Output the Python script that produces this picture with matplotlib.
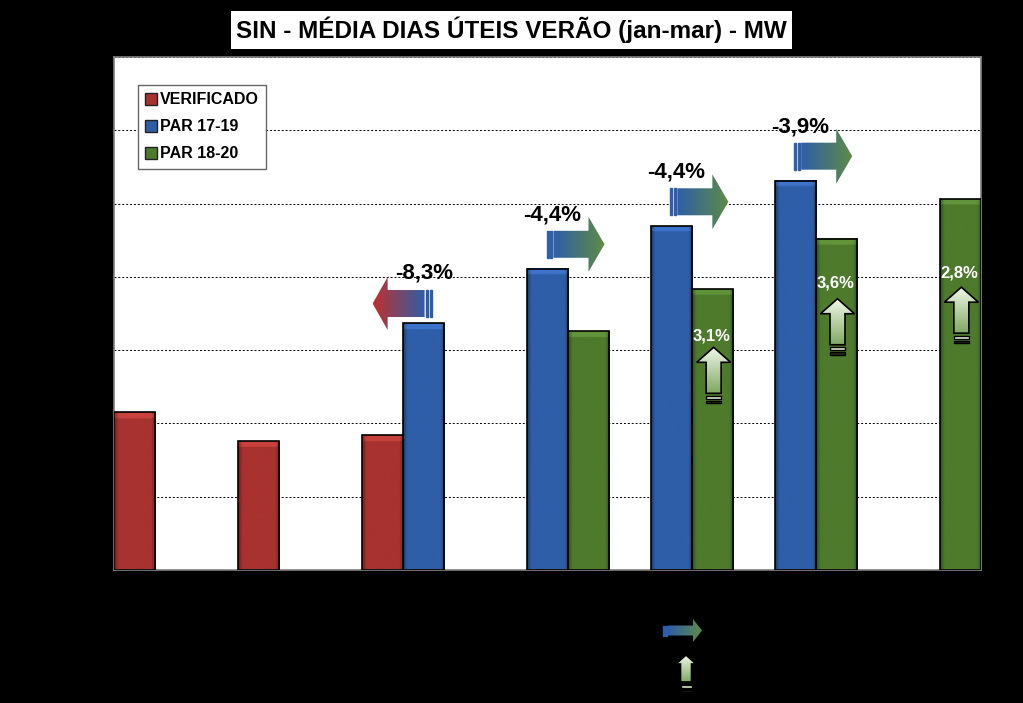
import numpy as np
import matplotlib
matplotlib.use('Agg')
import matplotlib.pyplot as plt
from matplotlib.patches import Polygon, Rectangle
from matplotlib.lines import Line2D
from matplotlib.colors import LinearSegmentedColormap, to_rgb

plt.rcParams['font.family'] = ['Liberation Sans', 'DejaVu Sans']

# dados (MW medios, dias uteis jan-mar)
anos = ['2015', '2016', '2017', '2018', '2019', '2020', '2021']
verificado = [68620, 67040, 67360, np.nan, np.nan, np.nan, np.nan]
par_17_19 = [np.nan, np.nan, 73480, 76440, 78760, 81250, np.nan]
par_18_20 = [np.nan, np.nan, np.nan, 73040, 75320, 78080, 80240]
series = ['VERIFICADO', 'PAR 17-19', 'PAR 18-20']
cores = ['#A8322F', '#2F5EA8', '#4E7A2C']

# variacoes indicadas nas setas
var_par = ['-8,3%', '-4,4%', '-4,4%', '-3,9%']     # PAR 17-19 -> verificado / PAR 18-20
var_ano = ['3,1%', '3,6%', '2,8%']                 # crescimento PAR 18-20

W, H = 1023, 703
fig = plt.figure(figsize=(W / 100, H / 100), dpi=100, facecolor='black')
ax = fig.add_axes([114 / W, 133 / H, 867 / W, 513 / H], facecolor='white')

x = np.arange(len(anos))
bw = 1 / 3
offs = [-bw, 0, bw]


def shaded_bar(ax, xc, top, base, color):
    # barra com efeito de bisel (bordas escuras, topo claro)
    nx, ny = 40, 200
    c = np.array(to_rgb(color))
    fx = np.ones(nx)
    fx[:4] = np.linspace(0.65, 0.92, 4)
    fx[-4:] = np.linspace(0.92, 0.65, 4)
    img = np.tile(c, (ny, nx, 1)) * fx[None, :, None]
    hpx = (top - base) / 28000 * 513
    ntop = max(1, int(round(6 / max(hpx, 1) * ny)))
    img[-ntop:] = np.clip(img[-ntop:] * 1.15 + 0.03, 0, 1)
    img = np.clip(img, 0, 1)
    ax.imshow(img, extent=[xc - bw / 2, xc + bw / 2, base, top], origin='lower',
              aspect='auto', interpolation='bilinear', zorder=2)
    ax.add_patch(Rectangle((xc - bw / 2, base), bw, top - base, facecolor='none',
                           edgecolor='black', linewidth=1.2, zorder=3))


ymin, ymax = 60000, 88000
for vals, off, cor in zip([verificado, par_17_19, par_18_20], offs, cores):
    for xi, v in zip(x, vals):
        if not np.isnan(v):
            shaded_bar(ax, xi + off, v, ymin, cor)

ax.set_xlim(-0.5, len(anos) - 0.5)
ax.set_ylim(ymin, ymax)
ax.set_yticks(np.arange(ymin, ymax + 1, 4000))
ax.set_xticks(x)
ax.set_xticklabels(anos, color='black', fontsize=12, fontweight='bold')
ax.tick_params(axis='y', colors='black', labelsize=11, length=4)
ax.tick_params(axis='x', length=0)
ax.yaxis.grid(True, linestyle=(0, (2, 2)), color='black', linewidth=0.7)
ax.set_axisbelow(True)
for s in ax.spines.values():
    s.set_color('#808080')
    s.set_linewidth(1.2)

handles = [Line2D([], [], marker='s', linestyle='none', markersize=8,
                  markerfacecolor=c, markeredgecolor='#222222') for c in cores]
leg = ax.legend(handles, series, loc='upper left', bbox_to_anchor=(0.028, 0.945),
                borderaxespad=0, fancybox=False, edgecolor='#666666', framealpha=1,
                prop={'weight': 'bold', 'size': 11.5}, handlelength=0.7,
                handletextpad=0.2, labelspacing=0.75, borderpad=0.45)
leg.get_frame().set_linewidth(1.0)

fig.text(0.5, 1 - 30 / H, 'SIN - MÉDIA DIAS ÚTEIS VERÃO (jan-mar) - MW',
         ha='center', va='center', fontsize=17.5, fontweight='bold',
         bbox=dict(facecolor='white', edgecolor='none', pad=4))

# camada em pixels para as setas
ov = fig.add_axes([0, 0, 1, 1], facecolor='none', zorder=5)
ov.set_xlim(0, W)
ov.set_ylim(0, H)
ov.axis('off')


def px(xd, yd):
    return ax.transData.transform((xd, yd))


def grad_poly(verts, c0, c1, vertical=False, edge='none', lw=0):
    poly = Polygon(verts, closed=True, facecolor='none', edgecolor='none')
    ov.add_patch(poly)
    xs = [v[0] for v in verts]
    ys = [v[1] for v in verts]
    cmap = LinearSegmentedColormap.from_list('g', [c0, c1])
    g = np.linspace(0, 1, 256)
    g = g[:, None] if vertical else g[None, :]
    im = ov.imshow(g, cmap=cmap, extent=[min(xs), max(xs), min(ys), max(ys)],
                   origin='lower', aspect='auto', interpolation='bilinear', zorder=6)
    im.set_clip_path(poly)
    if edge != 'none':
        ov.add_patch(Polygon(verts, closed=True, facecolor='none', edgecolor=edge,
                             linewidth=lw, zorder=7))


def right_arrow(x0, yb, L=58, Hh=55, h=27, head=16, c0='#2F5EA8', c1='#5E8C45'):
    yc = yb + Hh / 2
    s = L * 0.12
    verts = [(x0 + s, yc - h / 2), (x0 + L - head, yc - h / 2), (x0 + L - head, yb),
             (x0 + L, yc), (x0 + L - head, yb + Hh), (x0 + L - head, yc + h / 2),
             (x0 + s, yc + h / 2)]
    grad_poly(verts, c0, c1)
    for sx in (0, s * 0.5):
        ov.add_patch(Rectangle((x0 + sx, yc - h / 2), s * 0.3, h, color=c0, zorder=6))


def left_arrow(x1, yb, L=59, Hh=53, h=27, head=15, c0='#C0302E', c1='#2F5EA8'):
    yc = yb + Hh / 2
    s = L * 0.12
    x0 = x1 - L
    verts = [(x0, yc), (x0 + head, yb + Hh), (x0 + head, yc + h / 2),
             (x1 - s, yc + h / 2), (x1 - s, yc - h / 2), (x0 + head, yc - h / 2),
             (x0 + head, yb)]
    grad_poly(verts, c0, c1)
    for sx in (0, s * 0.5):
        ov.add_patch(Rectangle((x1 - sx - s * 0.3, yc - h / 2), s * 0.3, h,
                               color=c1, zorder=6))


def up_arrow(xc, yt, Ww=34, w=15, head=15, Ht=56):
    yb = yt - Ht
    ys = yb + 10
    verts = [(xc, yt), (xc + Ww / 2, yt - head), (xc + w / 2, yt - head),
             (xc + w / 2, ys), (xc - w / 2, ys), (xc - w / 2, yt - head),
             (xc - Ww / 2, yt - head)]
    grad_poly(verts, '#80A862', '#F0F8E8', vertical=True, edge='black', lw=1.2)
    ov.add_patch(Rectangle((xc - w / 2, yb + 4.5), w, 3, facecolor='#DDEBD0',
                           edgecolor='black', linewidth=1.0, zorder=7))
    ov.add_patch(Rectangle((xc - w / 2, yb), w, 2.5, facecolor='#1F2A18',
                           edgecolor='black', linewidth=1.0, zorder=7))


# seta de -8,3% (verificado x PAR 17-19)
bx, bt = px(x[2], par_17_19[2])
yb = bt - 7
left_arrow(bx + 8, yb)
ov.text(bx, yb + 53 + 4, var_par[0], ha='center', va='center', fontsize=16,
        fontweight='bold', color='black', zorder=8)

# setas PAR 17-19 -> PAR 18-20
for i, lab in zip([3, 4, 5], var_par[1:]):
    bx, bt = px(x[i], par_17_19[i])
    yb = bt - 3
    right_arrow(bx - 1, yb)
    ov.text(bx + 5, yb + 55 + 2, lab, ha='center', va='center', fontsize=16,
            fontweight='bold', color='black', zorder=8)

# setas de crescimento PAR 18-20
off_lab = [47, 44, 74]
off_arr = [58, 60, 88]
for i, lab, ol, oa in zip([4, 5, 6], var_ano, off_lab, off_arr):
    bx, bt = px(x[i] + bw, par_18_20[i])
    ov.text(bx - 1, bt - ol, lab, ha='center', va='center', fontsize=12,
            fontweight='bold', color='white', zorder=8)
    up_arrow(bx + 1, bt - oa)

# chave das setas abaixo do grafico
right_arrow(663, H - 642, L=39, Hh=23, h=10, head=9)
up_arrow(686, H - 655, Ww=20, w=11, head=9, Ht=37)

fig.savefig('out.png', dpi=100, facecolor='black')
